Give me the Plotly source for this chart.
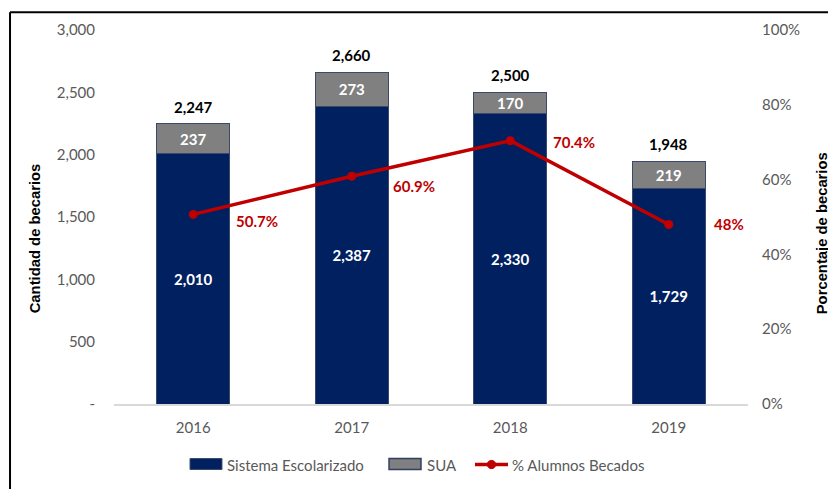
import plotly.graph_objects as go

years = ["2016", "2017", "2018", "2019"]
sistema = [2010, 2387, 2330, 1729]
sua = [237, 273, 170, 219]
totales = [2247, 2660, 2500, 1948]
pct_becados = [0.507, 0.609, 0.704, 0.48]
pct_text = ["50.7%", "60.9%", "70.4%", "48%"]

y_ticks = [0, 500, 1000, 1500, 2000, 2500, 3000]
y_ticktext = ["-", "500", "1,000", "1,500", "2,000", "2,500", "3,000"]
y2_ticks = [0, 0.2, 0.4, 0.6, 0.8, 1.0]
y2_ticktext = ["0%", "20%", "40%", "60%", "80%", "100%"]

series_names = ["Sistema Escolarizado", "SUA", "% Alumnos Becados"]

# label offsets (pixels) for percentage labels
pct_xshift = [64, 62, 64, 60]
pct_yshift = [-7, -10, -1, 0]

FONT = "Lato"
NAVY = "#002060"
GRAY = "#808080"
RED = "#C00000"
EDGE = "#3B4A6B"
TICK = "#595959"

fig = go.Figure()
fig.add_trace(go.Bar(
    x=years, y=sistema, name=series_names[0],
    marker=dict(color=NAVY, line=dict(color=EDGE, width=1)),
    text=[f"<b>{v:,}</b>" for v in sistema], textposition="inside",
    insidetextanchor="middle", constraintext="none",
    insidetextfont=dict(family=FONT, size=15, color="white"),
))
fig.add_trace(go.Bar(
    x=years, y=sua, name=series_names[1],
    marker=dict(color=GRAY, line=dict(color=EDGE, width=1)),
    text=[f"<b>{v:,}</b>" for v in sua], textposition="inside",
    insidetextanchor="middle", constraintext="none",
    insidetextfont=dict(family=FONT, size=15, color="white"),
))
fig.add_trace(go.Scatter(
    x=years, y=pct_becados, name=series_names[2], yaxis="y2",
    mode="lines+markers", line=dict(color=RED, width=3.5),
    marker=dict(color=RED, size=9),
))

annotations = []
for i, t in enumerate(totales):
    annotations.append(dict(x=i, y=t, xref="x", yref="y", text=f"<b>{t:,}</b>",
                            showarrow=False, yshift=17, yanchor="middle",
                            font=dict(family=FONT, size=15, color="#000000")))
for i, (p, txt, dx, dy) in enumerate(zip(pct_becados, pct_text, pct_xshift, pct_yshift)):
    annotations.append(dict(x=i, y=p, xref="x", yref="y2", text=f"<b>{txt}</b>",
                            showarrow=False, xshift=dx, yshift=dy,
                            font=dict(family=FONT, size=15, color=RED)))
annotations.append(dict(x=-0.1246, y=0.443, xref="paper", yref="paper",
                        xanchor="center", yanchor="middle",
                        text="<b>Cantidad de becarios</b>", textangle=-90, showarrow=False,
                        font=dict(family="Liberation Sans", size=14.8, color="#000000")))
annotations.append(dict(x=1.118, y=0.456, xref="paper", yref="paper",
                        xanchor="center", yanchor="middle",
                        text="<b>Porcentaje de becarios</b>", textangle=-90, showarrow=False,
                        font=dict(family="Liberation Sans", size=14.8, color="#000000")))

# custom legend (wide swatches as in the original)
LEG_Y = -0.1618
leg_text_x = [0.1751, 0.4905, 0.6246]
for name, lx in zip(series_names, leg_text_x):
    annotations.append(dict(x=lx, y=LEG_Y, xref="paper", yref="paper", text=name,
                            xanchor="left", yanchor="middle", showarrow=False,
                            font=dict(family=FONT, size=15, color=TICK)))

shapes = [
    # legend swatches
    dict(type="rect", xref="paper", yref="paper", x0=0.1199, x1=0.1703, y0=-0.1751, y1=-0.1459,
         fillcolor=NAVY, line=dict(color=EDGE, width=1)),
    dict(type="rect", xref="paper", yref="paper", x0=0.4338, x1=0.4842, y0=-0.1751, y1=-0.1459,
         fillcolor=GRAY, line=dict(color="#2F3E63", width=1.5)),
    dict(type="line", xref="paper", yref="paper", x0=0.5694, x1=0.6215, y0=LEG_Y, y1=LEG_Y,
         line=dict(color=RED, width=3.5)),
    dict(type="circle", xref="paper", yref="paper", x0=0.5954 - 0.0066, x1=0.5954 + 0.0066,
         y0=LEG_Y - 0.011, y1=LEG_Y + 0.011, fillcolor=RED, line=dict(color=RED, width=1)),
    # frame
    dict(type="line", xref="paper", yref="paper", x0=-0.164, x1=-0.164, y0=-0.3, y1=1.0477,
         line=dict(color="#000000", width=2)),
    dict(type="line", xref="paper", yref="paper", x0=-0.164, x1=1.2, y0=1.0477, y1=1.0477,
         line=dict(color="#000000", width=2)),
]

fig.update_layout(
    width=828, height=481,
    margin=dict(l=106, r=88, t=19, b=85),
    paper_bgcolor="white", plot_bgcolor="white",
    barmode="stack", bargap=0.54,
    font=dict(family=FONT, size=15, color=TICK),
    showlegend=False,
    xaxis=dict(type="category", range=[-0.5, 3.5], showline=True, linecolor="#D9D9D9",
               linewidth=1.5, ticks="outside", ticklen=9, tickcolor="rgba(0,0,0,0)",
               tickfont=dict(family=FONT, size=15, color=TICK), showgrid=False),
    yaxis=dict(range=[0, 3000], tickvals=y_ticks, ticktext=y_ticktext, showgrid=False,
               zeroline=False, ticks="outside", ticklen=15, tickcolor="rgba(0,0,0,0)",
               tickfont=dict(family=FONT, size=15, color=TICK)),
    yaxis2=dict(range=[0, 1], overlaying="y", side="right", tickvals=y2_ticks,
                ticktext=y2_ticktext, showgrid=False, zeroline=False,
                ticks="outside", ticklen=10, tickcolor="rgba(0,0,0,0)",
                tickfont=dict(family=FONT, size=15, color=TICK)),
    annotations=annotations,
    shapes=shapes,
)

fig.write_html("out.html")
